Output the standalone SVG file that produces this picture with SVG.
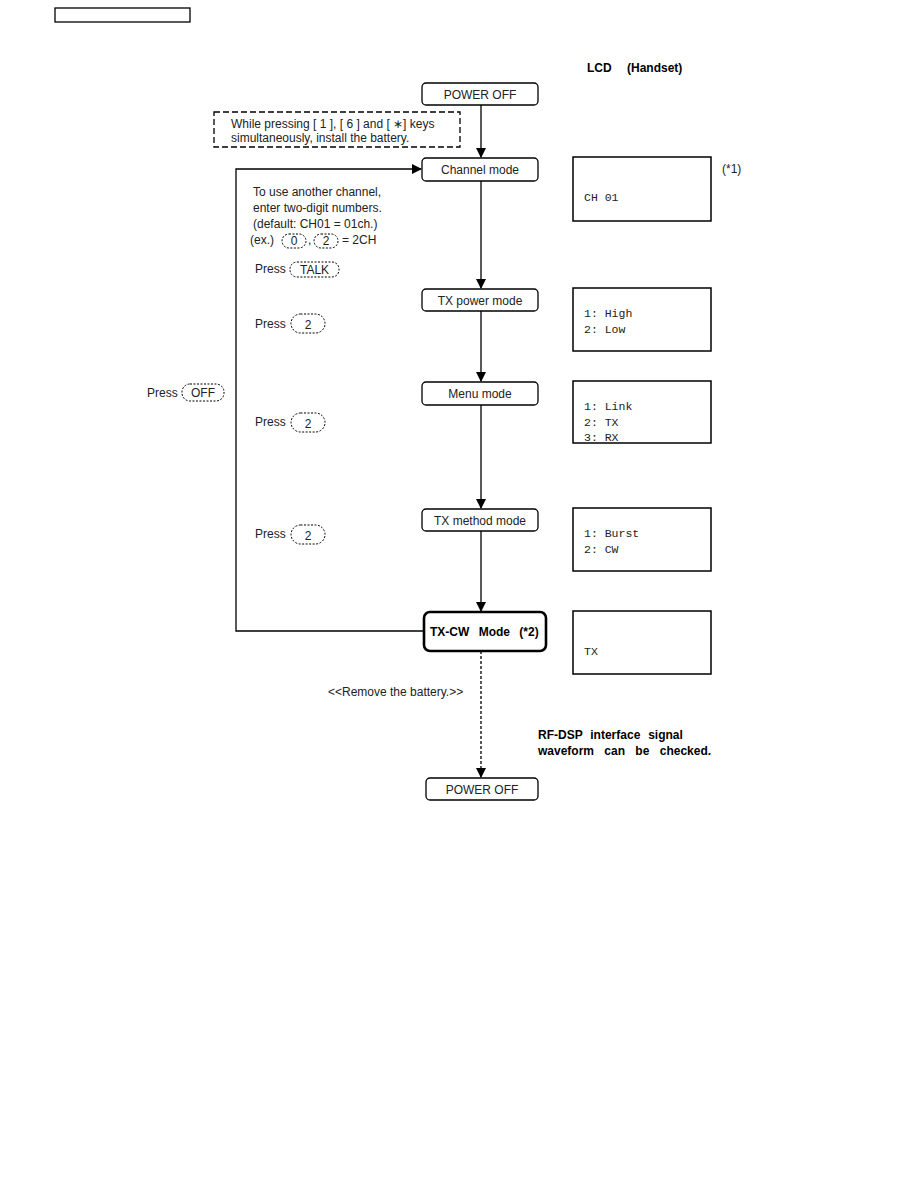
<svg xmlns="http://www.w3.org/2000/svg" width="918" height="1188" viewBox="0 0 918 1188">
<style>
.t{font-family:"Liberation Sans",Arial,sans-serif;font-size:12px;fill:#222}
.c{text-anchor:middle}
.b{font-weight:bold;fill:#000}
.m{font-family:"Liberation Mono","Courier New",monospace;font-size:11.5px;fill:#222}
.box{fill:#fff;stroke:#000;stroke-width:1.3}
.lcd{fill:#fff;stroke:#000;stroke-width:1.5}
.key{fill:none;stroke:#000;stroke-width:1;stroke-dasharray:2,1.5}
.ln{fill:none;stroke:#000;stroke-width:1.3}
</style>
<defs>
<marker id="ah" markerWidth="10" markerHeight="10" refX="9" refY="5" orient="auto" markerUnits="userSpaceOnUse">
<path d="M0,0 L10,5 L0,10 Z" fill="#000"/>
</marker>
</defs>
<rect x="55" y="8" width="135" height="14" fill="none" stroke="#000" stroke-width="1.3"/>
<g id="lcd_heading">
<text class="t b" x="587" y="72" font-size="13.5">LCD</text>
<text class="t b" x="627" y="72" font-size="13.5">(Handset)</text>
</g>

<g id="connectors">
<line class="ln" x1="481" y1="105" x2="481" y2="157" marker-end="url(#ah)"/>
<line class="ln" x1="481" y1="181" x2="481" y2="288" marker-end="url(#ah)"/>
<line class="ln" x1="481" y1="311" x2="481" y2="381" marker-end="url(#ah)"/>
<line class="ln" x1="481" y1="405" x2="481" y2="508" marker-end="url(#ah)"/>
<line class="ln" x1="481" y1="531" x2="481" y2="611" marker-end="url(#ah)"/>
<line class="ln" x1="481" y1="651" x2="481" y2="777" stroke-dasharray="3,2" marker-end="url(#ah)"/>
<polyline class="ln" points="424,631 236,631 236,169 421,169" marker-end="url(#ah)"/>
</g>

<g id="n_power_off_top">
<rect class="box" x="422" y="83" width="116" height="22" rx="4"/>
<text class="t c" x="480" y="99">POWER OFF</text>
</g>
<g id="n_install_note">
<rect x="214" y="112" width="246" height="35" fill="#fff" stroke="#000" stroke-width="1.3" stroke-dasharray="6,3"/>
<text class="t" x="231" y="128">While pressing [ 1 ], [ 6 ] and [ <tspan>∗</tspan>] keys</text>
<text class="t" x="231" y="142">simultaneously, install the battery.</text>
</g>
<g id="n_channel">
<rect class="box" x="422" y="158" width="116" height="23" rx="4"/>
<text class="t c" x="480" y="174">Channel mode</text>
</g>
<g id="n_channel_note">
<text class="t" x="253" y="196">To use another channel,</text>
<text class="t" x="253" y="212">enter two-digit numbers.</text>
<text class="t" x="253" y="228">(default: CH01 = 01ch.)</text>
<text class="t" x="250" y="244">(ex.)</text>
<rect class="key" x="282" y="234" width="24" height="14" rx="7"/>
<text class="t c" x="294" y="245">0</text>
<text class="t" x="308" y="244">,</text>
<rect class="key" x="314" y="234" width="24" height="14" rx="7"/>
<text class="t c" x="326" y="245">2</text>
<text class="t" x="342" y="244">= 2CH</text>
<text class="t" x="255" y="273">Press</text>
<rect class="key" x="290" y="262" width="49" height="15" rx="7"/>
<text class="t c" x="314.5" y="274">TALK</text>
</g>
<g id="n_txpower">
<rect class="box" x="422" y="289" width="116" height="22" rx="4"/>
<text class="t c" x="480" y="305">TX power mode</text>
</g>
<g id="n_press2a">
<text class="t" x="255" y="328">Press</text>
<rect class="key" x="291" y="314" width="34" height="19" rx="9.5"/>
<text class="t c" x="308" y="329">2</text>
</g>
<g id="n_menu">
<rect class="box" x="422" y="382" width="116" height="23" rx="4"/>
<text class="t c" x="480" y="398">Menu mode</text>
</g>
<g id="n_press_off">
<text class="t" x="147" y="397">Press</text>
<rect class="key" x="182" y="384" width="42" height="17" rx="8"/>
<text class="t c" x="203" y="397">OFF</text>
</g>
<g id="n_press2b">
<text class="t" x="255" y="426">Press</text>
<rect class="key" x="291" y="413" width="34" height="19" rx="9.5"/>
<text class="t c" x="308" y="428">2</text>
</g>
<g id="n_txmethod">
<rect class="box" x="422" y="509" width="116" height="22" rx="4"/>
<text class="t c" x="480" y="525">TX method mode</text>
</g>
<g id="n_press2c">
<text class="t" x="255" y="538">Press</text>
<rect class="key" x="291" y="525" width="34" height="19" rx="9.5"/>
<text class="t c" x="308" y="540">2</text>
</g>
<g id="n_txcw">
<rect x="424" y="612" width="122" height="39" rx="6" fill="#fff" stroke="#000" stroke-width="2.6"/>
<text class="t b" x="430" y="636" font-size="12.5" word-spacing="6">TX-CW Mode (*2)</text>
</g>
<g id="n_remove">
<text class="t" x="328" y="696">&lt;&lt;Remove the battery.&gt;&gt;</text>
</g>
<g id="n_rfdsp">
<text class="t b" x="538" y="739" font-size="12.5" word-spacing="4.5">RF-DSP interface signal</text>
<text class="t b" x="538" y="755" font-size="12.5" word-spacing="7">waveform can be checked.</text>
</g>
<g id="n_power_off_bottom">
<rect class="box" x="426" y="778" width="112" height="22" rx="4"/>
<text class="t c" x="482" y="794">POWER OFF</text>
</g>

<g id="lcd1">
<rect class="lcd" x="573" y="157" width="138" height="64"/>
<text class="m" x="584" y="201">CH 01</text>
<text class="t" x="722" y="173">(*1)</text>
</g>
<g id="lcd2">
<rect class="lcd" x="573" y="288" width="138" height="63"/>
<text class="m" x="584" y="317">1: High</text>
<text class="m" x="584" y="333">2: Low</text>
</g>
<g id="lcd3">
<rect class="lcd" x="573" y="381" width="138" height="62"/>
<text class="m" x="584" y="410">1: Link</text>
<text class="m" x="584" y="426">2: TX</text>
<text class="m" x="584" y="441">3: RX</text>
</g>
<g id="lcd4">
<rect class="lcd" x="573" y="508" width="138" height="63"/>
<text class="m" x="584" y="537">1: Burst</text>
<text class="m" x="584" y="553">2: CW</text>
</g>
<g id="lcd5">
<rect class="lcd" x="573" y="611" width="138" height="63"/>
<text class="m" x="584" y="655">TX</text>
</g>
</svg>
